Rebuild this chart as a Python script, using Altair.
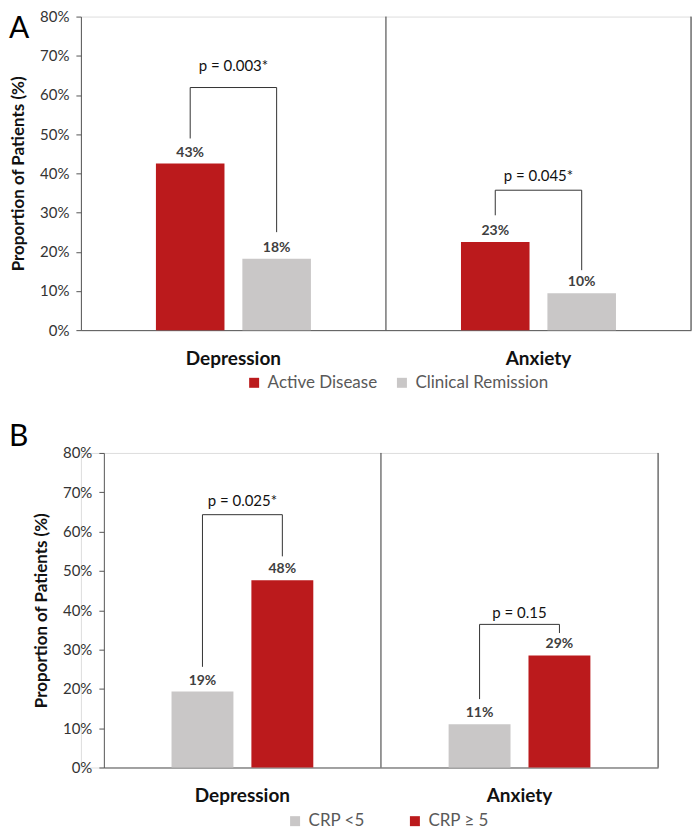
import altair as alt
import pandas as pd

FONT = "Lato"
RED = "#BB1A1C"
GRAY = "#C9C7C7"

groups = ["Depression", "Anxiety"]

# ---- Panel A ----
a_series = ["Active Disease", "Clinical Remission"]
a_colors = [RED, GRAY]
a_dep_values = [42.5, 18.2]
a_anx_values = [22.5, 9.4]
a_dep_labels = ["43%", "18%"]
a_anx_labels = ["23%", "10%"]
# bracket: left leg bottom, top, right leg bottom
a_dep_bracket = [48.9, 61.9, 25.0]
a_anx_bracket = [29.3, 35.7, 15.3]
a_ptext = ["p = 0.003*", "p = 0.045*"]
a_py = [67.5, 39.4]

# ---- Panel B ----
b_series = ["CRP <5", "CRP ≥ 5"]
b_colors = [GRAY, RED]
b_dep_values = [19.3, 47.6]
b_anx_values = [11.0, 28.5]
b_dep_labels = ["19%", "48%"]
b_anx_labels = ["11%", "29%"]
b_dep_bracket = [25.6, 64.3, 53.7]
b_anx_bracket = [17.4, 36.4, 34.2]
b_ptext = ["p = 0.025*", "p = 0.15"]
b_py = [67.7, 39.2]

y_ticks = [0, 10, 20, 30, 40, 50, 60, 70, 80]


def panel(series, colors, dep_vals, anx_vals, dep_labs, anx_labs, dep_br, anx_br,
          ptext, py, width, height, x_start, pad_in, pad_out, letter, letter_x, letter_y,
          legend_x, legend_y, col_pad):
    rows = []
    for g, vals, labs in [("Depression", dep_vals, dep_labs), ("Anxiety", anx_vals, anx_labs)]:
        for s, v, l in zip(series, vals, labs):
            rows.append({"group": g, "series": s, "value": v, "label": l})
    df = pd.DataFrame(rows)

    brows = []
    for g, br in [("Depression", dep_br), ("Anxiety", anx_br)]:
        brows += [
            {"group": g, "series": series[0], "value": br[0], "order": 0},
            {"group": g, "series": series[0], "value": br[1], "order": 1},
            {"group": g, "series": series[1], "value": br[1], "order": 2},
            {"group": g, "series": series[1], "value": br[2], "order": 3},
        ]
    bdf = pd.DataFrame(brows)
    pdf = pd.DataFrame({"group": groups, "text": ptext, "value": py})

    x = alt.X("group:N", sort=groups,
              scale=alt.Scale(domain=groups, paddingInner=0, paddingOuter=0,
                              range=[x_start, width]),
              axis=alt.Axis(title=None, labelAngle=0, ticks=False, labelFontSize=19,
                            labelFontWeight="bold", labelColor="#111", labelPadding=19,
                            domainColor="#555", labelFont=FONT))
    xoff = alt.XOffset("series:N", sort=series,
                       scale=alt.Scale(domain=series, paddingInner=pad_in, paddingOuter=pad_out))
    y = alt.Y("value:Q", scale=alt.Scale(domain=[0, 80], nice=False),
              axis=alt.Axis(values=y_ticks, labelExpr="datum.value + '%'",
                            title="Proportion of Patients (%)", grid=False,
                            domainColor="#555", tickColor="#555", tickSize=5,
                            labelFontSize=15, labelColor="#333", labelFont=FONT,
                            labelPadding=7, titleFontSize=17, titleFontWeight="bold",
                            titleColor="#111", titleFont=FONT, titlePadding=12,
                            labelOverlap=False, offset=-x_start))

    bars = alt.Chart(df).mark_bar().encode(
        x=x, xOffset=xoff, y=y,
        color=alt.Color("series:N", sort=series,
                        scale=alt.Scale(domain=series, range=colors),
                        legend=alt.Legend(title=None, orient="none", legendX=legend_x,
                                          legendY=legend_y, direction="horizontal",
                                          symbolType="square", symbolSize=100,
                                          symbolStrokeWidth=0, labelFontSize=17,
                                          labelColor="#595959", labelFont=FONT,
                                          columnPadding=col_pad, labelOffset=5, padding=0)),
    )
    labels = alt.Chart(df).mark_text(baseline="bottom", dy=-4, fontSize=14,
                                     fontWeight="bold", color="#404040", font=FONT).encode(
        x=x, xOffset=xoff, y=y, text="label:N")
    bracket = alt.Chart(bdf).mark_line(color="#333", strokeWidth=1).encode(
        x=x, xOffset=xoff, y=y, order="order:Q", detail="group:N")
    ptx = alt.Chart(pdf).mark_text(fontSize=15, color="#111", font=FONT).encode(
        x=x, y=y, text="text:N")

    ddf = pd.DataFrame({"group": ["Anxiety"], "value": [0], "value2": [80]})
    div = alt.Chart(ddf).mark_rule(color="#333", strokeWidth=1).encode(
        x=alt.X("group:N", bandPosition=0, sort=groups), y=y, y2="value2:Q")
    right = alt.Chart(ddf).mark_rule(color="#333", strokeWidth=1).encode(
        x=alt.X("group:N", bandPosition=1, sort=groups), y=y, y2="value2:Q")

    let = alt.Chart(pd.DataFrame({"t": [letter]})).mark_text(
        align="left", baseline="alphabetic", fontSize=30, font=FONT, color="#000").encode(
        x=alt.value(letter_x), y=alt.value(letter_y), text="t:N")

    return alt.layer(bars, div, right, bracket, labels, ptx, let).properties(
        width=width, height=height)


pa = panel(a_series, a_colors, a_dep_values, a_anx_values, a_dep_labels, a_anx_labels,
           a_dep_bracket, a_anx_bracket, a_ptext, a_py, 611, 314, 0, 18 / 87, 0.868,
           "A", -72, 21, 165, 358, 16)
pb = panel(b_series, b_colors, b_dep_values, b_anx_values, b_dep_labels, b_anx_labels,
           b_dep_bracket, b_anx_bracket, b_ptext, b_py, 578, 315, 23, 18 / 80, 0.847,
           "B", -72, -7, 206, 360, 41)

chart = alt.vconcat(pa, pb, spacing=29).resolve_scale(
    x="independent", y="independent", xOffset="independent", color="independent"
).properties(padding=0).configure_view(stroke=None).configure(font=FONT)

chart.save("out.html", embed_options={"renderer": "svg", "actions": False})
